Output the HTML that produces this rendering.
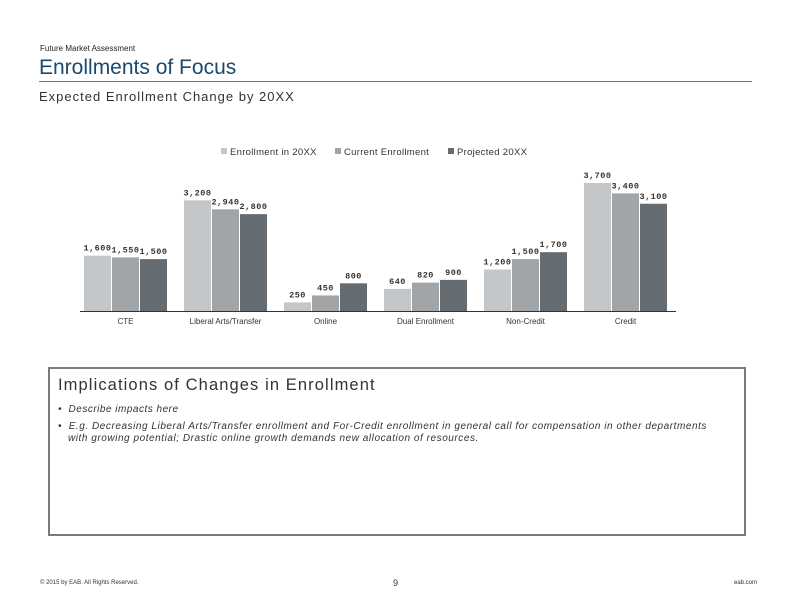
<!DOCTYPE html>
<html><head><meta charset="utf-8"><style>
body{margin:0;width:792px;height:612px;background:#fff;position:relative;font-family:"Liberation Sans",sans-serif;overflow:hidden}
.abs{position:absolute;white-space:nowrap}
</style></head><body>
<div class="abs" style="left:40px;top:44px;font-size:8px;color:#222">Future Market Assessment</div>
<div class="abs" style="left:39px;top:56px;font-size:21px;color:#1b4a6e">Enrollments of Focus</div>
<div class="abs" style="left:39px;top:81px;width:713px;height:1px;background:#777"></div>
<div class="abs" style="left:39px;top:89px;font-size:13px;color:#333;letter-spacing:1px">Expected Enrollment Change by 20XX</div>
<svg class="abs" style="left:0;top:0" width="792" height="340" id="chart"></svg>
<div class="abs" style="left:48px;top:367px;width:694px;height:165px;border:2px solid #7a7a7a"></div>
<div class="abs" style="left:58px;top:376px;font-size:16.5px;color:#333;letter-spacing:1.1px">Implications of Changes in Enrollment</div>
<div class="abs" style="left:58px;top:404px;font-size:10px;font-style:italic;color:#333;letter-spacing:0.5px">• &nbsp;Describe impacts here</div>
<div class="abs" style="left:58px;top:421px;font-size:10px;font-style:italic;color:#333;line-height:12px;letter-spacing:0.55px">• &nbsp;E.g. Decreasing Liberal Arts/Transfer enrollment and For-Credit enrollment in general call for compensation in other departments<br>&nbsp;&nbsp;&nbsp;with growing potential; Drastic online growth demands new allocation of resources.</div>
<div class="abs" style="left:40px;top:580px;font-size:6px;color:#333">© 2015 by EAB. All Rights Reserved.</div>
<div class="abs" style="left:393px;top:578px;font-size:9px;color:#333">9</div>
<div class="abs" style="left:734px;top:580px;font-size:6px;color:#333">eab.com</div>
<script>
const categories=["CTE","Liberal Arts/Transfer","Online","Dual Enrollment","Non-Credit","Credit"];
const seriesNames=["Enrollment in 20XX","Current Enrollment","Projected 20XX"];
const enroll20XX=[1600,3200,250,640,1200,3700];
const currentEnroll=[1550,2940,450,820,1500,3400];
const projected20XX=[1500,2800,800,900,1700,3100];
const series=[enroll20XX,currentEnroll,projected20XX];
const colors=["#c4c7ca","#a2a5a8","#646b71"];
const svg=document.getElementById('chart');
const NS="http://www.w3.org/2000/svg";
const base=311,scale=128/3700,x0=84,pitch=100,bw=27,bstep=28;
const y=v=>base-v*scale;
const x=(c,s)=>x0+c*pitch+s*bstep;
function mk(t,a){const e=document.createElementNS(NS,t);for(const k in a)e.setAttribute(k,a[k]);svg.appendChild(e);return e;}
categories.forEach((cat,c)=>{
 series.forEach((arr,s)=>{
  const r=mk('rect',{x:x(c,s),y:y(arr[c]),width:bw,height:arr[c]*scale,fill:colors[s]});
  
  
  const t=mk('text',{x:x(c,s)+bw/2,y:y(arr[c])-5,'text-anchor':'middle','font-size':8.5,fill:'#333','font-family':'Liberation Mono, monospace','letter-spacing':'0.5','font-weight':'bold'});
  t.textContent=arr[c].toLocaleString('en-US');
  
  
 });
 const l=mk('text',{x:x(c,1)+bw/2,y:324,'text-anchor':'middle','font-size':8,fill:'#333','font-family':'Liberation Sans, sans-serif'});
 l.textContent=cat;
 
 
});
const ax=mk('line',{x1:80,x2:676,y1:base+0.5,y2:base+0.5,stroke:'#333','stroke-width':1});


const lx=[221,335,448];
seriesNames.forEach((n,i)=>{
 const r=mk('rect',{x:lx[i],y:148,width:6,height:6,fill:colors[i]});
 
 
 const t=mk('text',{x:lx[i]+9,y:155,'font-size':9.5,fill:'#333','font-family':'Liberation Sans, sans-serif','letter-spacing':'0.3'});
 t.textContent=n;
 
 
});
</script>
</body></html>
